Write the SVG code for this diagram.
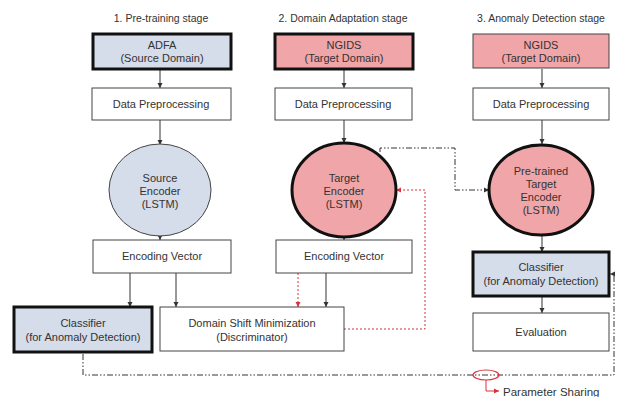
<svg xmlns="http://www.w3.org/2000/svg" width="620" height="397" viewBox="0 0 620 397">
<defs>
<style>
text{font-family:"Liberation Sans",Arial,sans-serif;font-size:11px;fill:#333;text-anchor:middle;dominant-baseline:central}
.title{font-size:10.5px}
.box{fill:#fff;stroke:#444;stroke-width:1}
.thick{stroke:#111;stroke-width:3}
.blue{fill:#D5DCEA}
.pink{fill:#F0A5A8}
.ln{fill:none;stroke:#333;stroke-width:1}
.dd{fill:none;stroke:#333;stroke-width:1;stroke-dasharray:6 2 1.5 2 1.5 2}
.red{fill:none;stroke:#D9333A;stroke-width:1;stroke-dasharray:2 2}
</style>
<marker id="ah" markerWidth="6" markerHeight="6" refX="5" refY="3" orient="auto" markerUnits="userSpaceOnUse"><path d="M0,0.5 L5,3 L0,5.5 Z" fill="#333"/></marker>
<marker id="ahr" markerWidth="6" markerHeight="6" refX="5" refY="3" orient="auto" markerUnits="userSpaceOnUse"><path d="M0,0.5 L5,3 L0,5.5 Z" fill="#D9333A"/></marker>
</defs>
<rect width="620" height="397" fill="#fff"/>
<g id="titles">
<text class="title" x="161" y="18">1. Pre-training stage</text>
<text class="title" x="343" y="18">2. Domain Adaptation stage</text>
<text class="title" x="541" y="18">3. Anomaly Detection stage</text>
</g>
<g id="connectors">
<line class="ln" x1="160" y1="69" x2="160" y2="88" marker-end="url(#ah)"/>
<line class="ln" x1="160" y1="120" x2="160" y2="145" marker-end="url(#ah)"/>
<line class="ln" x1="160" y1="236" x2="160" y2="240" marker-end="url(#ah)"/>
<line class="ln" x1="130" y1="273" x2="130" y2="307" marker-end="url(#ah)"/>
<line class="ln" x1="176" y1="273" x2="176" y2="307" marker-end="url(#ah)"/>
<line class="ln" x1="344" y1="69" x2="344" y2="88" marker-end="url(#ah)"/>
<line class="ln" x1="344" y1="120" x2="344" y2="143" marker-end="url(#ah)"/>
<line class="ln" x1="344" y1="237" x2="344" y2="240" marker-end="url(#ah)"/>
<line class="ln" x1="326" y1="273" x2="326" y2="307" marker-end="url(#ah)"/>
<path class="red" d="M298,273 V307" marker-end="url(#ahr)"/>
<path class="red" d="M344,329 H425 V190 H396" marker-end="url(#ahr)"/>
<line class="ln" x1="542" y1="69" x2="542" y2="88" marker-end="url(#ah)"/>
<line class="ln" x1="542" y1="120" x2="542" y2="144" marker-end="url(#ah)"/>
<line class="ln" x1="542" y1="235" x2="542" y2="252" marker-end="url(#ah)"/>
<line class="ln" x1="542" y1="297" x2="542" y2="313" marker-end="url(#ah)"/>
<path class="dd" d="M380,152 V148 H455 V190 H489" marker-end="url(#ah)"/>
<path class="dd" d="M83,354 V375 H614 V274 H610" marker-end="url(#ah)"/>
<ellipse cx="486" cy="375" rx="13" ry="5" fill="none" stroke="#D9333A" stroke-width="1.2"/>
<path d="M486,380 V391 H499" fill="none" stroke="#D9333A" stroke-width="1" marker-end="url(#ahr)"/>
</g>
<g id="adfa"><rect class="box thick blue" x="93" y="34" width="138" height="35"/><text x="162" y="45">ADFA</text><text x="162" y="58">(Source Domain)</text></g>
<g id="ngids2"><rect class="box thick pink" x="275" y="34" width="138" height="35"/><text x="344" y="45">NGIDS</text><text x="344" y="58">(Target Domain)</text></g>
<g id="ngids3"><rect class="box pink" x="473" y="34" width="136" height="34"/><text x="541" y="45">NGIDS</text><text x="541" y="58">(Target Domain)</text></g>
<g id="prep1"><rect class="box" x="92" y="88" width="139" height="32"/><text x="161" y="104">Data Preprocessing</text></g>
<g id="prep2"><rect class="box" x="275" y="88" width="137" height="32"/><text x="343" y="104">Data Preprocessing</text></g>
<g id="prep3"><rect class="box" x="473" y="88" width="136" height="32"/><text x="541" y="104">Data Preprocessing</text></g>
<g id="srcenc"><ellipse class="box blue" cx="160" cy="190" rx="51" ry="46"/><text x="160" y="178">Source</text><text x="160" y="191">Encoder</text><text x="160" y="204">(LSTM)</text></g>
<g id="tgtenc"><ellipse class="box thick pink" cx="344" cy="190" rx="52" ry="47"/><text x="344" y="178">Target</text><text x="344" y="191">Encoder</text><text x="344" y="204">(LSTM)</text></g>
<g id="pretgt"><ellipse class="box thick pink" cx="541" cy="190" rx="52" ry="45"/><text x="541" y="171">Pre-trained</text><text x="541" y="184">Target</text><text x="541" y="197">Encoder</text><text x="541" y="210">(LSTM)</text></g>
<g id="enc1"><rect class="box" x="93" y="240" width="138" height="33"/><text x="162" y="256">Encoding Vector</text></g>
<g id="enc2"><rect class="box" x="276" y="240" width="136" height="33"/><text x="344" y="256">Encoding Vector</text></g>
<g id="cls3"><rect class="box thick blue" x="473" y="252" width="136" height="44"/><text x="541" y="267">Classifier</text><text x="541" y="281">(for Anomaly Detection)</text></g>
<g id="eval"><rect class="box" x="473" y="313" width="136" height="38"/><text x="541" y="332">Evaluation</text></g>
<g id="cls1"><rect class="box thick blue" x="14" y="307" width="138" height="45"/><text x="83" y="323">Classifier</text><text x="83" y="337">(for Anomaly Detection)</text></g>
<g id="dsm"><rect class="box" x="160" y="307" width="184" height="44"/><text x="252" y="323">Domain Shift Minimization</text><text x="252" y="337">(Discriminator)</text></g>
<g id="label"><text x="503" y="392" style="text-anchor:start;font-size:11.5px">Parameter Sharing</text></g>
</svg>
